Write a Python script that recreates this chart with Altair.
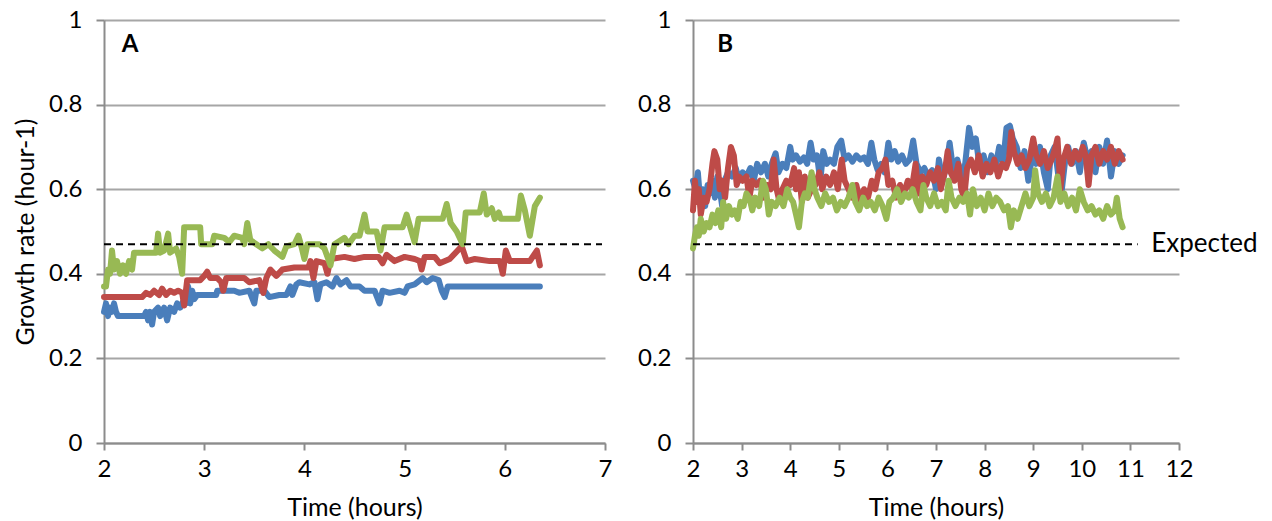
import altair as alt
import pandas as pd

# ---------------- Panel A data ----------------
A_blue_t = [2.00, 2.02, 2.04, 2.06, 2.08, 2.10, 2.12, 2.14, 2.40, 2.42, 2.44, 2.46, 2.48, 2.50, 2.54, 2.56,
            2.60, 2.63, 2.66, 2.70, 2.73, 2.76, 2.80, 2.82, 2.84, 2.86, 2.88, 2.90, 2.93, 3.12, 3.13, 3.30,
            3.35, 3.45, 3.50, 3.52, 3.60, 3.65, 3.75, 3.82, 3.86, 3.88, 3.92, 3.95, 4.05, 4.10, 4.13, 4.16,
            4.22, 4.28, 4.32, 4.36, 4.42, 4.46, 4.55, 4.60, 4.70, 4.75, 4.78, 4.85, 4.95, 5.00, 5.03, 5.10,
            5.18, 5.22, 5.28, 5.34, 5.37, 5.40, 5.43, 6.35]
A_blue_v = [0.31, 0.33, 0.30, 0.32, 0.31, 0.33, 0.31, 0.30, 0.30, 0.31, 0.29, 0.31, 0.28, 0.31, 0.32, 0.30,
            0.32, 0.29, 0.32, 0.31, 0.33, 0.32, 0.34, 0.33, 0.37, 0.33, 0.36, 0.34, 0.35, 0.35, 0.36, 0.36,
            0.355, 0.36, 0.33, 0.36, 0.36, 0.345, 0.35, 0.35, 0.37, 0.35, 0.375, 0.38, 0.375, 0.38, 0.34, 0.375,
            0.38, 0.37, 0.39, 0.375, 0.385, 0.37, 0.37, 0.36, 0.36, 0.33, 0.36, 0.355, 0.36, 0.355, 0.37, 0.375,
            0.39, 0.38, 0.39, 0.385, 0.36, 0.345, 0.37, 0.37]

A_red_t = [2.00, 2.38, 2.42, 2.46, 2.50, 2.55, 2.58, 2.62, 2.66, 2.70, 2.74, 2.78, 2.80, 2.83, 2.96, 3.00,
           3.03, 3.06, 3.13, 3.17, 3.19, 3.22, 3.40, 3.45, 3.55, 3.59, 3.62, 3.66, 3.72, 3.78, 3.90, 4.04,
           4.06, 4.09, 4.12, 4.20, 4.23, 4.26, 4.40, 4.50, 4.60, 4.74, 4.78, 4.82, 4.90, 5.00, 5.10, 5.15,
           5.17, 5.20, 5.30, 5.35, 5.45, 5.57, 5.62, 5.70, 5.85, 5.95, 5.98, 6.01, 6.05, 6.25, 6.32, 6.35]
A_red_v = [0.345, 0.345, 0.355, 0.35, 0.36, 0.35, 0.365, 0.35, 0.36, 0.355, 0.36, 0.355, 0.325, 0.385, 0.385, 0.395,
           0.405, 0.39, 0.39, 0.38, 0.36, 0.39, 0.39, 0.38, 0.385, 0.355, 0.39, 0.41, 0.395, 0.41, 0.415, 0.415,
           0.43, 0.39, 0.43, 0.425, 0.40, 0.435, 0.44, 0.435, 0.44, 0.44, 0.425, 0.445, 0.43, 0.44, 0.435, 0.43,
           0.41, 0.44, 0.44, 0.425, 0.435, 0.465, 0.43, 0.435, 0.43, 0.43, 0.40, 0.455, 0.43, 0.43, 0.455, 0.42]

A_green_t = [2.00, 2.02, 2.04, 2.06, 2.08, 2.10, 2.13, 2.16, 2.19, 2.22, 2.25, 2.28, 2.30, 2.48, 2.52, 2.54,
             2.56, 2.60, 2.64, 2.66, 2.72, 2.75, 2.78, 2.80, 2.96, 2.97, 3.08, 3.10, 3.20, 3.25, 3.30, 3.38,
             3.40, 3.43, 3.46, 3.52, 3.58, 3.64, 3.70, 3.78, 3.82, 3.90, 3.94, 3.97, 4.00, 4.03, 4.15, 4.20,
             4.26, 4.30, 4.40, 4.44, 4.50, 4.55, 4.60, 4.63, 4.72, 4.76, 4.80, 4.98, 5.02, 5.05, 5.10, 5.14,
             5.38, 5.42, 5.46, 5.52, 5.58, 5.61, 5.75, 5.79, 5.82, 5.87, 5.90, 5.94, 5.96, 6.13, 6.16, 6.20,
             6.25, 6.30, 6.35]
A_green_v = [0.37, 0.37, 0.41, 0.40, 0.455, 0.41, 0.43, 0.40, 0.42, 0.40, 0.43, 0.41, 0.45, 0.45, 0.45, 0.495,
             0.45, 0.455, 0.495, 0.45, 0.46, 0.44, 0.40, 0.51, 0.51, 0.47, 0.47, 0.49, 0.485, 0.475, 0.49, 0.485,
             0.47, 0.52, 0.48, 0.47, 0.46, 0.47, 0.455, 0.44, 0.465, 0.47, 0.49, 0.465, 0.435, 0.47, 0.47, 0.46,
             0.42, 0.47, 0.485, 0.47, 0.49, 0.49, 0.54, 0.50, 0.50, 0.455, 0.51, 0.51, 0.54, 0.515, 0.475, 0.53,
             0.53, 0.565, 0.52, 0.50, 0.47, 0.545, 0.545, 0.59, 0.54, 0.555, 0.53, 0.545, 0.53, 0.53, 0.585, 0.55,
             0.49, 0.56, 0.58]

# ---------------- Panel B data ----------------
B_blue_t = [2.00, 2.05, 2.10, 2.15, 2.20, 2.25, 2.30, 2.35, 2.40, 2.45, 2.50, 2.55, 2.60, 2.65, 2.72, 2.80,
            2.88, 2.95, 3.02, 3.10, 3.18, 3.25, 3.32, 3.40, 3.48, 3.55, 3.62, 3.70, 3.76, 3.84, 3.92, 4.00,
            4.05, 4.12, 4.20, 4.28, 4.35, 4.42, 4.48, 4.55, 4.62, 4.68, 4.75, 4.82, 4.90, 4.97, 5.05, 5.12,
            5.20, 5.28, 5.36, 5.44, 5.52, 5.60, 5.67, 5.73, 5.80, 5.87, 5.94, 6.02, 6.08, 6.15, 6.22, 6.30,
            6.38, 6.46, 6.53, 6.60, 6.68, 6.76, 6.84, 6.92, 7.00, 7.06, 7.14, 7.22, 7.28, 7.36, 7.44, 7.52,
            7.60, 7.68, 7.75, 7.82, 7.90, 7.98, 8.06, 8.14, 8.22, 8.30, 8.38, 8.45, 8.52, 8.58, 8.66, 8.74,
            8.82, 8.90, 8.98, 9.06, 9.14, 9.22, 9.30, 9.36, 9.44, 9.52, 9.58, 9.65, 9.72, 9.80, 9.88, 9.96,
            10.04, 10.12, 10.20, 10.28, 10.36, 10.44, 10.52, 10.60, 10.68, 10.76, 10.84]
B_blue_v = [0.62, 0.60, 0.64, 0.57, 0.60, 0.56, 0.61, 0.59, 0.62, 0.58, 0.63, 0.60, 0.56, 0.62, 0.64, 0.63,
            0.65, 0.62, 0.64, 0.63, 0.65, 0.62, 0.66, 0.64, 0.66, 0.63, 0.66, 0.685, 0.64, 0.66, 0.65, 0.70,
            0.67, 0.68, 0.665, 0.675, 0.66, 0.71, 0.67, 0.68, 0.62, 0.69, 0.66, 0.67, 0.66, 0.70, 0.715, 0.67,
            0.68, 0.665, 0.68, 0.67, 0.675, 0.66, 0.71, 0.67, 0.645, 0.66, 0.64, 0.71, 0.67, 0.69, 0.665, 0.68,
            0.66, 0.67, 0.715, 0.66, 0.64, 0.65, 0.63, 0.645, 0.60, 0.67, 0.62, 0.66, 0.71, 0.64, 0.67, 0.63,
            0.66, 0.745, 0.70, 0.72, 0.65, 0.68, 0.64, 0.68, 0.65, 0.70, 0.66, 0.745, 0.75, 0.72, 0.70, 0.65,
            0.69, 0.62, 0.68, 0.66, 0.70, 0.64, 0.60, 0.68, 0.70, 0.63, 0.59, 0.66, 0.70, 0.66, 0.69, 0.64,
            0.71, 0.67, 0.69, 0.64, 0.70, 0.66, 0.715, 0.63, 0.69, 0.66, 0.68]

B_red_t = [2.00, 2.04, 2.08, 2.12, 2.16, 2.22, 2.28, 2.34, 2.40, 2.44, 2.50, 2.55, 2.60, 2.66, 2.72, 2.78,
           2.84, 2.90, 2.95, 3.02, 3.10, 3.16, 3.22, 3.30, 3.38, 3.45, 3.52, 3.60, 3.66, 3.72, 3.78, 3.84,
           3.92, 4.00, 4.08, 4.12, 4.18, 4.24, 4.30, 4.36, 4.44, 4.52, 4.60, 4.66, 4.74, 4.82, 4.90, 4.98,
           5.06, 5.12, 5.20, 5.28, 5.36, 5.44, 5.52, 5.60, 5.68, 5.75, 5.82, 5.90, 5.96, 6.02, 6.10, 6.18,
           6.26, 6.34, 6.42, 6.50, 6.58, 6.64, 6.72, 6.80, 6.88, 6.96, 7.04, 7.10, 7.18, 7.24, 7.30, 7.38,
           7.46, 7.52, 7.58, 7.64, 7.72, 7.80, 7.88, 7.96, 8.04, 8.12, 8.20, 8.28, 8.36, 8.44, 8.50, 8.55,
           8.60, 8.68, 8.76, 8.84, 8.92, 9.00, 9.06, 9.14, 9.22, 9.30, 9.38, 9.46, 9.50, 9.56, 9.62, 9.70,
           9.78, 9.86, 9.94, 10.02, 10.08, 10.14, 10.20, 10.28, 10.36, 10.44, 10.52, 10.60, 10.68, 10.76, 10.84]
B_red_v = [0.55, 0.62, 0.57, 0.60, 0.54, 0.58, 0.57, 0.60, 0.66, 0.69, 0.67, 0.60, 0.62, 0.58, 0.65, 0.70,
           0.68, 0.61, 0.63, 0.62, 0.63, 0.58, 0.62, 0.61, 0.62, 0.58, 0.61, 0.60, 0.67, 0.60, 0.57, 0.60,
           0.62, 0.61, 0.65, 0.60, 0.64, 0.57, 0.63, 0.58, 0.60, 0.61, 0.64, 0.60, 0.63, 0.61, 0.64, 0.60,
           0.67, 0.62, 0.60, 0.58, 0.61, 0.57, 0.60, 0.58, 0.62, 0.60, 0.64, 0.65, 0.67, 0.61, 0.62, 0.58,
           0.61, 0.59, 0.62, 0.60, 0.66, 0.59, 0.63, 0.61, 0.64, 0.62, 0.65, 0.60, 0.64, 0.69, 0.64, 0.62,
           0.66, 0.60, 0.58, 0.65, 0.67, 0.64, 0.68, 0.63, 0.66, 0.64, 0.67, 0.63, 0.66, 0.65, 0.67, 0.735,
           0.69, 0.66, 0.68, 0.65, 0.67, 0.72, 0.68, 0.66, 0.69, 0.65, 0.67, 0.70, 0.72, 0.60, 0.67, 0.70,
           0.66, 0.69, 0.67, 0.70, 0.68, 0.61, 0.68, 0.70, 0.66, 0.69, 0.67, 0.70, 0.66, 0.69, 0.67]

B_green_t = [2.00, 2.04, 2.08, 2.12, 2.16, 2.22, 2.28, 2.34, 2.40, 2.46, 2.52, 2.58, 2.62, 2.68, 2.74, 2.80,
             2.86, 2.92, 2.98, 3.04, 3.10, 3.16, 3.22, 3.28, 3.36, 3.44, 3.50, 3.56, 3.62, 3.70, 3.78, 3.86,
             3.94, 4.00, 4.06, 4.12, 4.18, 4.24, 4.30, 4.36, 4.44, 4.50, 4.56, 4.64, 4.72, 4.80, 4.88, 4.96,
             5.04, 5.12, 5.20, 5.28, 5.34, 5.42, 5.50, 5.58, 5.66, 5.74, 5.82, 5.90, 5.98, 6.04, 6.12, 6.20,
             6.28, 6.36, 6.44, 6.52, 6.60, 6.68, 6.74, 6.80, 6.88, 6.96, 7.04, 7.12, 7.20, 7.26, 7.32, 7.40,
             7.48, 7.56, 7.64, 7.70, 7.76, 7.84, 7.92, 8.00, 8.08, 8.16, 8.24, 8.32, 8.40, 8.48, 8.54, 8.60,
             8.68, 8.76, 8.84, 8.92, 9.00, 9.04, 9.10, 9.18, 9.26, 9.34, 9.42, 9.50, 9.56, 9.64, 9.72, 9.80,
             9.88, 9.96, 10.04, 10.12, 10.20, 10.28, 10.36, 10.44, 10.52, 10.60, 10.68, 10.72, 10.78, 10.84]
B_green_v = [0.46, 0.49, 0.51, 0.49, 0.53, 0.50, 0.52, 0.51, 0.54, 0.52, 0.55, 0.51, 0.57, 0.53, 0.56, 0.54,
             0.55, 0.53, 0.57, 0.56, 0.59, 0.58, 0.55, 0.58, 0.56, 0.62, 0.60, 0.54, 0.57, 0.56, 0.58, 0.56,
             0.60, 0.58, 0.57, 0.54, 0.51, 0.57, 0.59, 0.58, 0.64, 0.60, 0.58, 0.56, 0.59, 0.57, 0.58, 0.55,
             0.57, 0.56, 0.58, 0.61, 0.57, 0.55, 0.58, 0.56, 0.57, 0.55, 0.58, 0.56, 0.53, 0.57, 0.58, 0.60,
             0.57, 0.59, 0.58, 0.60, 0.57, 0.55, 0.61, 0.58, 0.56, 0.59, 0.56, 0.57, 0.55, 0.62, 0.58, 0.56,
             0.58, 0.57, 0.59, 0.54, 0.60, 0.56, 0.58, 0.55, 0.59, 0.56, 0.58, 0.57, 0.55, 0.56, 0.51, 0.55,
             0.53, 0.56, 0.59, 0.56, 0.58, 0.645, 0.59, 0.57, 0.59, 0.56, 0.58, 0.63, 0.57, 0.59, 0.56, 0.58,
             0.55, 0.60, 0.57, 0.55, 0.56, 0.54, 0.55, 0.53, 0.56, 0.54, 0.55, 0.58, 0.53, 0.51]

EXPECTED = 0.47
Y_TICKS = [0, 0.2, 0.4, 0.6, 0.8, 1]
A_X_TICKS = [2, 3, 4, 5, 6, 7]
B_X_TICKS = [2, 3, 4, 5, 6, 7, 8, 9, 10, 11, 12]

BLUE, RED, GREEN = "#4A7EBB", "#BE4B48", "#98B954"
FONT = "Lato"


def panel(series, xmax, xticks, width, ytitle, label, label_t, dash_end, expected_text):
    xenc = alt.X("t:Q", scale=alt.Scale(domain=[2, xmax], nice=False, zero=False),
                 axis=alt.Axis(values=xticks, title="Time (hours)", grid=False, format="d",
                               labelFlush=False, labelPadding=7, titlePadding=14, tickSize=7))
    if ytitle:
        yaxis = alt.Axis(values=Y_TICKS, format="~g", title=ytitle, labelFlush=False)
    else:
        yaxis = alt.Axis(values=Y_TICKS, format="~g", title=None, labelFlush=False)
    yenc = alt.Y("v:Q", scale=alt.Scale(domain=[0, 1], nice=False), axis=yaxis)

    layers = []
    for (t, v), color in series:
        df = pd.DataFrame({"t": t, "v": v})
        layers.append(alt.Chart(df).mark_line(color=color, strokeWidth=6, strokeJoin="round",
                                              strokeCap="round").encode(x=xenc, y=yenc))
    dash_df = pd.DataFrame({"t": [2], "t2": [dash_end], "v": [EXPECTED]})
    layers.append(alt.Chart(dash_df).mark_rule(color="black", strokeWidth=2, strokeDash=[7, 5]).encode(
        x="t:Q", x2="t2:Q", y="v:Q"))
    lab_df = pd.DataFrame({"t": [label_t], "v": [0.94], "txt": [label]})
    layers.append(alt.Chart(lab_df).mark_text(font=FONT, fontSize=24, fontWeight="bold", color="black",
                                              align="center", baseline="middle").encode(
        x="t:Q", y="v:Q", text="txt:N"))
    if expected_text:
        e_df = pd.DataFrame({"t": [dash_end + 0.28], "v": [EXPECTED], "txt": [expected_text]})
        layers.append(alt.Chart(e_df).mark_text(font=FONT, fontSize=26, color="black",
                                                align="left", baseline="middle").encode(
            x="t:Q", y="v:Q", text="txt:N"))
    return alt.layer(*layers).properties(width=width, height=423)


panel_a = panel([((A_blue_t, A_blue_v), BLUE), ((A_red_t, A_red_v), RED), ((A_green_t, A_green_v), GREEN)],
                7, A_X_TICKS, 501, "Growth rate (hour-1)", "A", 2.26, 6.97, None)
panel_b = panel([((B_blue_t, B_blue_v), BLUE), ((B_red_t, B_red_v), RED), ((B_green_t, B_green_v), GREEN)],
                12, B_X_TICKS, 486, None, "B", 2.66, 11.15, "Expected")

chart = alt.hconcat(panel_a, panel_b, spacing=25).properties(
    padding={"left": 13, "top": 8, "right": 5, "bottom": 0}
).configure_view(stroke=None).configure_axis(
    labelFont=FONT, titleFont=FONT, labelFontSize=24, titleFontSize=25, titleFontWeight="normal",
    labelColor="black", titleColor="black", domainColor="#8C8C8C", tickColor="#8C8C8C",
    gridColor="#A6A6A6", domainWidth=2, tickWidth=2, gridWidth=2, tickSize=8, labelPadding=14,
    titlePadding=10
)

chart.save("out.html", embed_options={"renderer": "svg", "actions": False})
